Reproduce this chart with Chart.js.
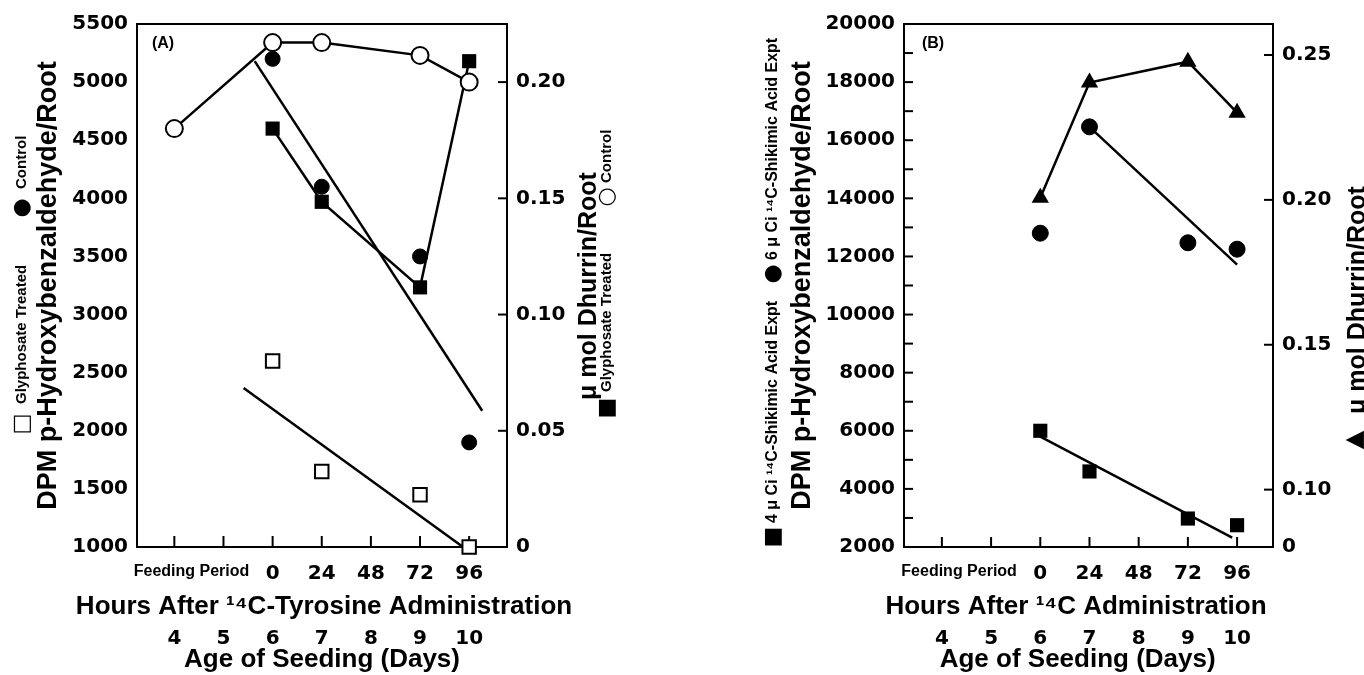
<!DOCTYPE html>
<html>
<head>
<meta charset="utf-8">
<script src="https://cdn.jsdelivr.net/npm/chart.js@4.4.1/dist/chart.umd.min.js"></script>
<style>
  html, body { margin: 0; padding: 0; background: #fff; }
  body { width: 1364px; height: 675px; position: relative; overflow: hidden; }
  #wa { position: absolute; left: 0; top: 0; }
  #wb { position: absolute; left: 700px; top: 0; }
</style>
</head>
<body>
<div id="wa"><canvas id="chartA" width="640" height="675"></canvas></div>
<div id="wb"><canvas id="chartB" width="664" height="675"></canvas></div>
<script>
// x axis: age of seedling in days, hours after administration under it
var dayTicks = [4, 5, 6, 7, 8, 9, 10];
var hourTickDays = [4.35, 6, 7, 8, 9, 10];
var hourTickLabels = ['Feeding Period', '0', '24', '48', '72', '96'];

// panel A (14C-tyrosine)
var aDhurrinDays = [4, 6, 7, 9, 10];
var aCtrlDhurrin = [0.18, 0.217, 0.217, 0.2115, 0.20];
var aDays = [6, 7, 9, 10];
var aGlyDhurrin = [0.18, 0.1485, 0.1117, 0.209];
var aCtrlDpm = [5200, 4100, 3500, 1900];
var aGlyDpm = [2600, 1650, 1450, 1000];
var aCtrlFitDays = [5.635, 10.265];
var aCtrlFit = [5181, 2172];
var aGlyFitDays = [5.41, 9.875];
var aGlyFit = [2368, 1000];
var aLeftTicks = [1000, 1500, 2000, 2500, 3000, 3500, 4000, 4500, 5000, 5500];
var aRightTicks = [0, 0.05, 0.10, 0.15, 0.20];

// panel B (14C-shikimic acid)
var bDays = [6, 7, 9, 10];
var bDhurrin = [0.2007, 0.2405, 0.2477, 0.2301];
var b6uCi = [12800, 16460, 12470, 12250];
var b4uCi = [6000, 4600, 2980, 2750];
var b6FitDays = [7, 10];
var b6Fit = [16460, 11720];
var b4FitDays = [6, 9.9];
var b4Fit = [5800, 2320];
var bLeftTicks = [2000, 4000, 6000, 8000, 10000, 12000, 14000, 16000, 18000, 20000];
var bLeftMinor = [3000, 4000, 5000, 6000, 7000, 8000, 9000, 10000, 11000, 12000, 13000, 14000, 15000, 16000, 17000, 18000, 19000];
var bRightTicks = [0.10, 0.15, 0.20, 0.25];
var bRightMin = 0.0802;

Chart.defaults.font.family = 'Liberation Sans';
Chart.defaults.color = '#000';

function pts(xs, ys) {
    var out = [];
    for (var i = 0; i < xs.length; i++) out.push({ x: xs[i], y: ys[i] });
    return out;
}

// frame + inward tick marks
var innerTicks = {
    id: 'innerTicks',
    beforeDatasetsDraw: function (chart, args, opts) {
        var ctx = chart.ctx, a = chart.chartArea;
        ctx.save();
        ctx.strokeStyle = '#000';
        ctx.lineWidth = 2;
        ctx.strokeRect(a.left, a.top, a.right - a.left, a.bottom - a.top);
        (opts.sets || []).forEach(function (s) {
            var sc = chart.scales[s.scale];
            s.values.forEach(function (v) {
                var p = sc.getPixelForValue(v);
                ctx.beginPath();
                if (s.side === 'bottom') { ctx.moveTo(p, a.bottom); ctx.lineTo(p, a.bottom - s.len); }
                else if (s.side === 'left') { ctx.moveTo(a.left, p); ctx.lineTo(a.left + s.len, p); }
                else { ctx.moveTo(a.right, p); ctx.lineTo(a.right - s.len, p); }
                ctx.stroke();
            });
        });
        ctx.restore();
    }
};

// rotated side labels, panel letters, wide axis titles
var sideText = {
    id: 'sideText',
    afterDraw: function (chart, args, opts) {
        var ctx = chart.ctx;
        (opts.items || []).forEach(function (t) {
            ctx.save();
            ctx.fillStyle = '#000';
            ctx.font = t.font;
            ctx.translate(t.x, t.y);
            if (t.rot) ctx.rotate(-Math.PI / 2);
            ctx.textAlign = t.align || 'center';
            ctx.textBaseline = 'middle';
            ctx.fillText(t.text, 0, 0);
            ctx.restore();
        });
    }
};

var tickFont = { family: 'DejaVu Sans', size: 20, weight: 'bold' };
var titleFont = { family: 'Liberation Sans', size: 27, weight: 'bold' };
var bigText = 'bold 26px "Liberation Sans"';
var rightTitle = 'bold 25px "Liberation Sans"';
var smallFont = 'bold 15px "Liberation Sans"';
var smallFontB = 'bold 16px "Liberation Sans"';
var symFont = '22px "DejaVu Sans"';

function xScales(min, max) {
    return {
        x: {
            type: 'linear', position: 'bottom', min: min, max: max,
            afterBuildTicks: function (ax) { ax.ticks = hourTickDays.map(function (v) { return { value: v }; }); },
            afterFit: function (ax) { ax.height = 75; },
            grid: { display: false, drawTicks: false },
            border: { display: false },
            ticks: {
                autoSkip: false, maxRotation: 0, minRotation: 0, padding: 15, color: '#000',
                font: function (c) {
                    return (c.tick && c.tick.value < 5) ? { family: 'Liberation Sans', size: 16, weight: 'bold' } : tickFont;
                },
                callback: function (v) { return hourTickLabels[hourTickDays.indexOf(v)]; }
            }
        },
        x2: {
            type: 'linear', position: 'bottom', min: min, max: max,
            afterBuildTicks: function (ax) { ax.ticks = dayTicks.map(function (v) { return { value: v }; }); },
            afterFit: function (ax) { ax.height = 53; },
            grid: { display: false, drawTicks: false },
            border: { display: false },
            ticks: { autoSkip: false, maxRotation: 0, minRotation: 0, padding: 5, color: '#000', font: tickFont,
                callback: function (v) { return String(v); } },
            title: { display: true, text: 'Age of Seeding (Days)', font: { family: 'Liberation Sans', size: 26, weight: 'bold' },
                color: '#000', padding: { top: 0, bottom: 0 } }
        }
    };
}

// ---------- panel A ----------
var scalesA = xScales(3.24, 10.77);
scalesA.y = {
    type: 'linear', position: 'left', min: 1000, max: 5500,
    afterBuildTicks: function (ax) { ax.ticks = aLeftTicks.map(function (v) { return { value: v }; }); },
    afterFit: function (ax) { ax.width = 137; },
    grid: { display: false, drawTicks: false }, border: { display: false },
    ticks: { padding: 9, font: tickFont, color: '#000', callback: function (v) { return String(v); } },
    title: { display: true, text: 'DPM p-Hydroxybenzaldehyde/Root', font: titleFont, color: '#000', padding: { top: 32, bottom: 0 } }
};
scalesA.y2 = {
    type: 'linear', position: 'right', min: 0, max: 0.225,
    afterBuildTicks: function (ax) { ax.ticks = aRightTicks.map(function (v) { return { value: v }; }); },
    afterFit: function (ax) { ax.width = 133; },
    grid: { display: false, drawTicks: false }, border: { display: false },
    ticks: { padding: 9, font: tickFont, color: '#000', callback: function (v) { return v === 0 ? '0' : v.toFixed(2); } }
};

new Chart(document.getElementById('chartA'), {
    type: 'line',
    data: {
        datasets: [
            { label: 'Control dhurrin', yAxisID: 'y2', data: pts(aDhurrinDays, aCtrlDhurrin),
              borderColor: '#000', borderWidth: 2.5, pointStyle: 'circle', pointRadius: 8.5,
              pointBackgroundColor: '#fff', pointBorderColor: '#000', pointBorderWidth: 2, clip: false },
            { label: 'Glyphosate dhurrin', yAxisID: 'y2', data: pts(aDays, aGlyDhurrin),
              borderColor: '#000', borderWidth: 2.5, pointStyle: 'rect', pointRadius: 10,
              pointBackgroundColor: '#000', pointBorderColor: '#000', pointBorderWidth: 0, clip: false },
            { label: 'Control DPM', yAxisID: 'y', data: pts(aDays, aCtrlDpm), showLine: false,
              pointStyle: 'circle', pointRadius: 7.5, pointBackgroundColor: '#000', pointBorderColor: '#000', clip: false },
            { label: 'Glyphosate DPM', yAxisID: 'y', data: pts(aDays, aGlyDpm), showLine: false,
              pointStyle: 'rect', pointRadius: 9.5, pointBackgroundColor: '#fff', pointBorderColor: '#000',
              pointBorderWidth: 2, clip: false },
            { label: 'Control DPM fit', yAxisID: 'y', data: pts(aCtrlFitDays, aCtrlFit),
              borderColor: '#000', borderWidth: 2.5, pointRadius: 0, clip: false },
            { label: 'Glyphosate DPM fit', yAxisID: 'y', data: pts(aGlyFitDays, aGlyFit),
              borderColor: '#000', borderWidth: 2.5, pointRadius: 0, clip: false }
        ]
    },
    options: {
        responsive: false, animation: false, devicePixelRatio: 1,
        layout: { padding: { top: 24, left: 0, right: 0, bottom: 0 } },
        scales: scalesA,
        plugins: {
            legend: { display: false }, tooltip: { enabled: false },
            innerTicks: { sets: [
                { scale: 'x', side: 'bottom', values: dayTicks, len: 11 },
                { scale: 'y2', side: 'right', values: aRightTicks, len: 9 }
            ] },
            sideText: { items: [
                { text: '(A)', x: 163, y: 44, font: 'bold 16px "Liberation Sans"' },
                { text: 'Hours After ¹⁴C-Tyrosine Administration', x: 324, y: 607, font: bigText },
                { text: '□', x: 22, y: 424, rot: true, font: symFont },
                { text: 'Glyphosate Treated', x: 22, y: 404, rot: true, align: 'left', font: smallFont },
                { text: '●', x: 22, y: 208, rot: true, font: symFont },
                { text: 'Control', x: 22, y: 189, rot: true, align: 'left', font: smallFont },
                { text: 'μ mol Dhurrin/Root', x: 589, y: 286, rot: true, font: rightTitle },
                { text: '■', x: 607, y: 408, rot: true, font: symFont },
                { text: 'Glyphosate Treated', x: 607, y: 392, rot: true, align: 'left', font: smallFont },
                { text: '○', x: 607, y: 197, rot: true, font: symFont },
                { text: 'Control', x: 607, y: 183, rot: true, align: 'left', font: smallFont }
            ] }
        }
    },
    plugins: [innerTicks, sideText]
});

// ---------- panel B ----------
var scalesB = xScales(3.23, 10.73);
scalesB.x2.title.text = 'Age of Seeding (Days)   ';
scalesB.y = {
    type: 'linear', position: 'left', min: 2000, max: 20000,
    afterBuildTicks: function (ax) { ax.ticks = bLeftTicks.map(function (v) { return { value: v }; }); },
    afterFit: function (ax) { ax.width = 204; },
    grid: { display: false, drawTicks: false }, border: { display: false },
    ticks: { padding: 9, font: tickFont, color: '#000', callback: function (v) { return String(v); } },
    title: { display: true, text: 'DPM p-Hydroxybenzaldehyde/Root', font: titleFont, color: '#000', padding: { top: 86, bottom: 0 } }
};
scalesB.y2 = {
    type: 'linear', position: 'right', min: bRightMin, max: 0.2607,
    afterBuildTicks: function (ax) { ax.ticks = [{ value: bRightMin }].concat(bRightTicks.map(function (v) { return { value: v }; })); },
    afterFit: function (ax) { ax.width = 91; },
    grid: { display: false, drawTicks: false }, border: { display: false },
    ticks: { padding: 9, font: tickFont, color: '#000', callback: function (v) { return v === bRightMin ? '0' : v.toFixed(2); } }
};

new Chart(document.getElementById('chartB'), {
    type: 'line',
    data: {
        datasets: [
            { label: 'Dhurrin', yAxisID: 'y2', data: pts(bDays, bDhurrin),
              borderColor: '#000', borderWidth: 2.5, pointStyle: 'triangle', pointRadius: 10,
              pointBackgroundColor: '#000', pointBorderColor: '#000', pointBorderWidth: 0, clip: false },
            { label: '6 uCi', yAxisID: 'y', data: pts(bDays, b6uCi), showLine: false,
              pointStyle: 'circle', pointRadius: 8, pointBackgroundColor: '#000', pointBorderColor: '#000', clip: false },
            { label: '4 uCi', yAxisID: 'y', data: pts(bDays, b4uCi), showLine: false,
              pointStyle: 'rect', pointRadius: 10, pointBackgroundColor: '#000', pointBorderColor: '#000',
              pointBorderWidth: 0, clip: false },
            { label: '6 uCi fit', yAxisID: 'y', data: pts(b6FitDays, b6Fit),
              borderColor: '#000', borderWidth: 2.5, pointRadius: 0, clip: false },
            { label: '4 uCi fit', yAxisID: 'y', data: pts(b4FitDays, b4Fit),
              borderColor: '#000', borderWidth: 2.5, pointRadius: 0, clip: false }
        ]
    },
    options: {
        responsive: false, animation: false, devicePixelRatio: 1,
        layout: { padding: { top: 24, left: 0, right: 0, bottom: 0 } },
        scales: scalesB,
        plugins: {
            legend: { display: false }, tooltip: { enabled: false },
            innerTicks: { sets: [
                { scale: 'x', side: 'bottom', values: dayTicks, len: 10 },
                { scale: 'y', side: 'left', values: bLeftMinor, len: 9 },
                { scale: 'y2', side: 'right', values: bRightTicks, len: 9 }
            ] },
            sideText: { items: [
                { text: '(B)', x: 233, y: 44, font: 'bold 16px "Liberation Sans"' },
                { text: 'Hours After ¹⁴C Administration', x: 376, y: 607, font: bigText },
                { text: '■', x: 73, y: 537, rot: true, font: symFont },
                { text: '4 μ Ci ¹⁴C-Shikimic Acid Expt', x: 73, y: 523, rot: true, align: 'left', font: smallFontB },
                { text: '●', x: 73, y: 274, rot: true, font: symFont },
                { text: '6 μ Ci ¹⁴C-Shikimic Acid Expt', x: 73, y: 260, rot: true, align: 'left', font: smallFontB },
                { text: 'μ mol Dhurrin/Root', x: 658, y: 300, rot: true, font: rightTitle },
                { text: '▲', x: 655, y: 440, rot: true, font: '24px "DejaVu Sans"' }
            ] }
        }
    },
    plugins: [innerTicks, sideText]
});
</script>
</body>
</html>
